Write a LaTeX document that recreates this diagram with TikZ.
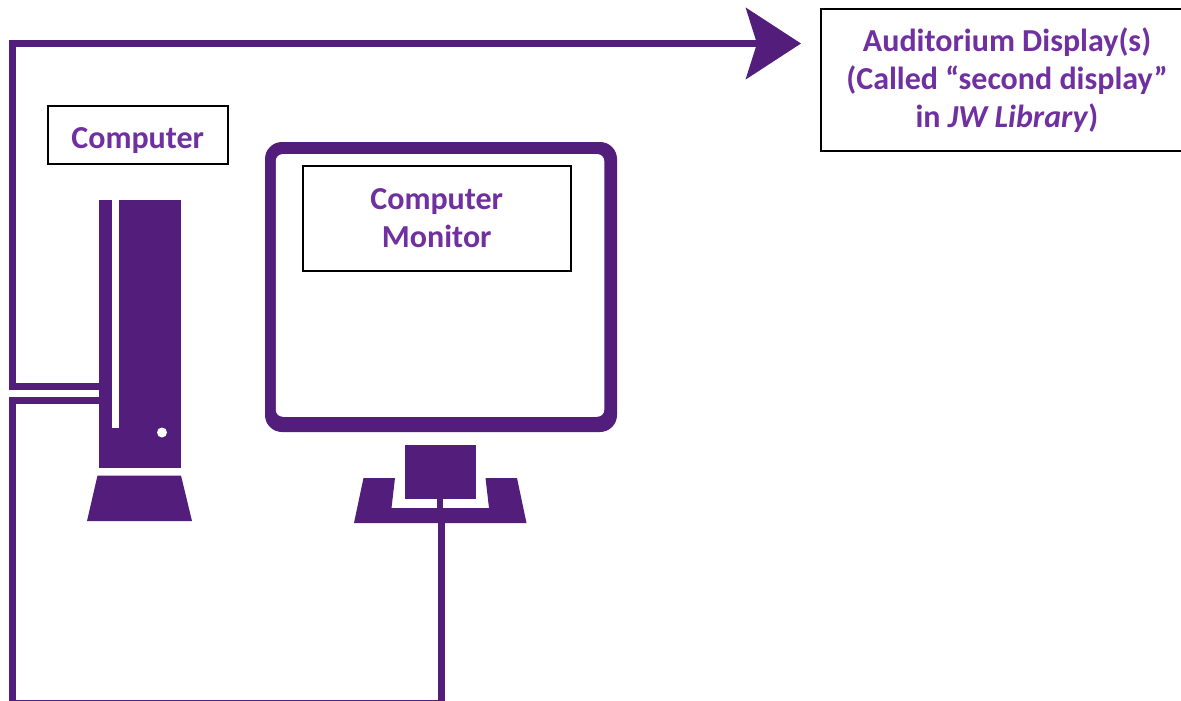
\documentclass[tikz,border=0pt]{standalone}
\usepackage{fontspec}
\setmainfont{Carlito}
\usetikzlibrary{arrows.meta}
\definecolor{deepviolet}{HTML}{531D7B}
\definecolor{textviolet}{HTML}{7030A0}
\tikzset{
  x=1pt,y=-1pt,
  labelbox/.style={draw=black,line width=2pt,fill=white,inner sep=0pt,outer sep=0pt,align=center,
    text=textviolet,font=\fontsize{32}{38}\selectfont\bfseries,anchor=center},
  solidpart/.style={fill=deepviolet,draw=none},
  cable/.style={draw=deepviolet,line width=7pt,miter limit=10},
  hole/.style={fill=white,draw=none,inner sep=0pt,outer sep=0pt},
  block/.style={fill=deepviolet,draw=none,inner sep=0pt,outer sep=0pt,rectangle}
}
\begin{document}
\begin{tikzpicture}
\useasboundingbox (0,0) rectangle (1181,701);
\clip (0,0) rectangle (1181,701);
\fill[white] (0,0) rectangle (1181,701);
% tower
\node[block,minimum width=82pt,minimum height=268pt] (tower) at (140,334) {};
\node[hole,minimum width=7pt,minimum height=228pt] (slot) at (115.8,314) {};
\node[hole,circle,minimum size=10pt] (led) at (162,432.5) {};
\path[solidpart] (97.5,475.5) -- (181,475.5) -- (192,521) -- (87,521) -- cycle;
% monitor
\node[block,rounded corners=17pt,minimum width=352pt,minimum height=290pt] (monitor) at (441,287) {};
\node[hole,rounded corners=7pt,minimum width=328.5pt,minimum height=262.7pt] (screen) at (440,285.4) {};
\node[block,minimum width=71pt,minimum height=53.5pt] (neck) at (440.5,471.8) {};
\path[solidpart] (363.5,478) -- (395,478) -- (391.5,508) -- (489,508) -- (485.5,478) -- (517,478) -- (526.5,523) -- (354,523) -- cycle;
\coordinate (basebottom) at (441.5,523);
\fill[deepviolet] (437,498) rectangle (443,509);
% connectors
\coordinate (upper) at (99,386.4);
\coordinate (lower) at (99,400.3);
\coordinate (tip) at (801,43.5);
\node[labelbox,minimum width=372pt,minimum height=142.5pt] (aud) at (1007,80) {Auditorium Display(s)\\(Called “second display”\\in \textit{JW Library})};
\draw[cable,-{Stealth[length=55pt,width=71pt,inset=11pt]}] (upper) -- (12.5,386.4) -- (12.5,43.5) -- (tip);
\draw[cable] (lower) -- (12.5,400.3) -- (12.5,703.5) -- (441.5,703.5) -- (basebottom);
% labels
\node[labelbox,minimum width=180.5pt,minimum height=58pt,text height=26pt,text depth=0pt] (computer) at (137.75,135) {Computer};
\node[labelbox,minimum width=268.5pt,minimum height=105pt] (monlabel) at (436.75,218.5) {Computer\\Monitor};
\end{tikzpicture}
\end{document}
